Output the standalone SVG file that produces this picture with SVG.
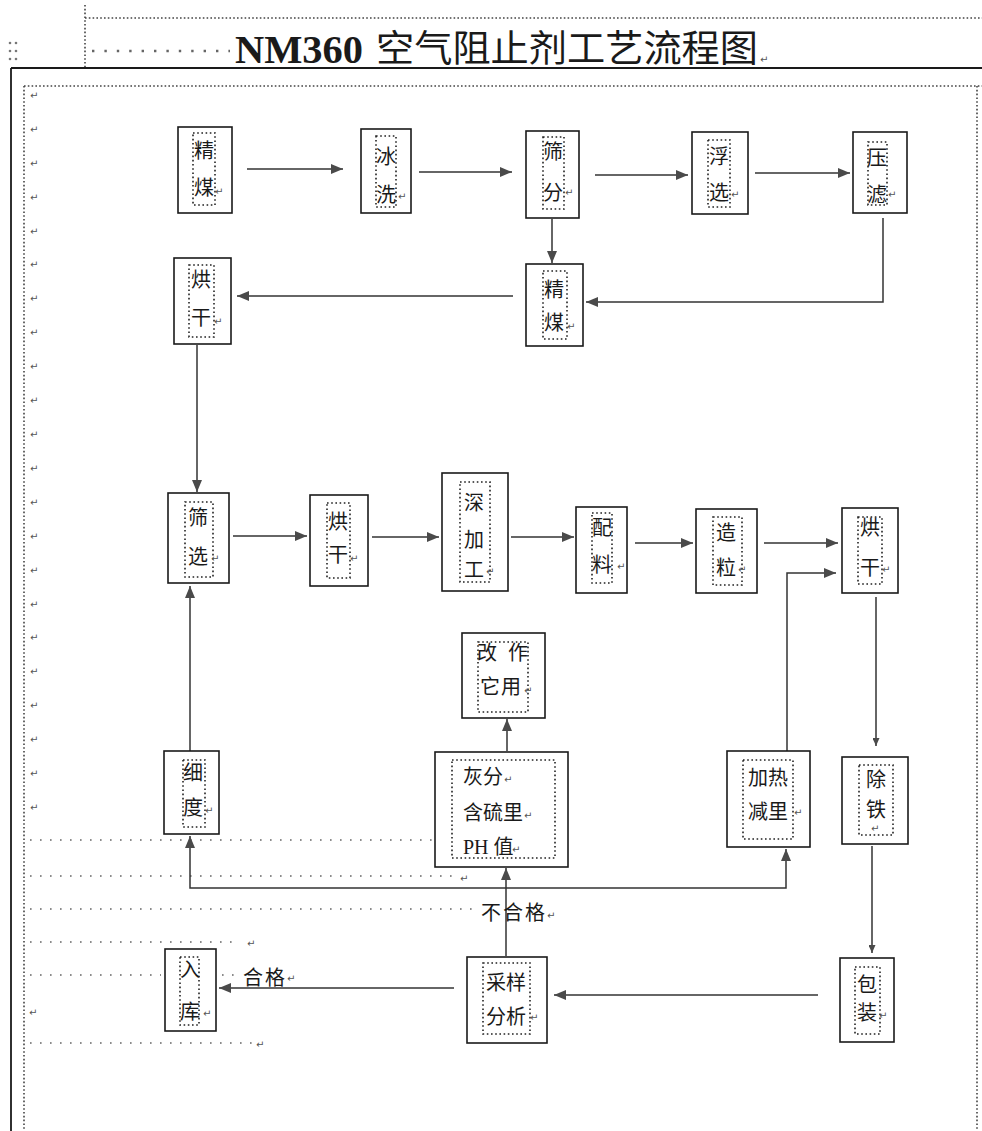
<svg xmlns="http://www.w3.org/2000/svg" width="982" height="1131" viewBox="0 0 982 1131">
<style>
.box{fill:#fff;stroke:#1a1a1a;stroke-width:1.6}
.in{fill:none;stroke:#222;stroke-width:1.6;stroke-dasharray:1.6 2.6}
.t{font-family:"Noto Sans CJK SC","Noto Sans CJK JP",sans-serif;font-size:20px;fill:#1a1a1a;text-anchor:middle}
.tl{font-family:"Liberation Serif","Noto Sans CJK SC",serif;font-size:20px;fill:#1a1a1a}
.pm{font-family:"DejaVu Sans",sans-serif;font-size:10px;fill:#555}
.c{fill:none;stroke:#333;stroke-width:1.5}
.lead{fill:none;stroke:#666;stroke-width:1.6;stroke-dasharray:1.6 8.4}
.mdot{fill:none;stroke:#444;stroke-width:1.6;stroke-dasharray:1.6 2.2}
.lbl{font-family:"Noto Sans CJK SC",sans-serif;font-size:20px;fill:#1a1a1a}
</style>
<defs>
<marker id="ah" markerWidth="12" markerHeight="10" refX="12" refY="5" orient="auto" markerUnits="userSpaceOnUse"><path d="M0,0 L12,5 L0,10 z" fill="#4a4a4a"/></marker>
<marker id="ahs" markerWidth="8" markerHeight="7" refX="8" refY="3.5" orient="auto" markerUnits="userSpaceOnUse"><path d="M0,0 L8,3.5 L0,7 z" fill="#4a4a4a"/></marker>
</defs>
<rect width="982" height="1131" fill="#fff"/>

<g id="page">
<path class="mdot" d="M85,18 H982"/>
<path class="mdot" d="M85,5 V68"/>
<g fill="#777"><circle cx="10" cy="43" r="1.3"/><circle cx="16" cy="43" r="1.3"/><circle cx="10" cy="51" r="1.3"/><circle cx="16" cy="51" r="1.3"/><circle cx="10" cy="59" r="1.3"/><circle cx="16" cy="59" r="1.3"/></g>
<path d="M92,51 H230" fill="none" stroke="#666" stroke-width="2.4" stroke-dasharray="2.4 10"/>
<text x="235" y="63" font-family="Liberation Serif,serif" font-weight="bold" font-size="40" fill="#1a1a1a" textLength="128" lengthAdjust="spacingAndGlyphs">NM360</text>
<text x="376" y="62" font-family="Noto Sans CJK SC,sans-serif" font-size="37" fill="#1a1a1a" textLength="382" lengthAdjust="spacingAndGlyphs">空气阻止剂工艺流程图</text>
<text class="pm" x="760" y="63">↵</text>
<path d="M11,68 H982" stroke="#1a1a1a" stroke-width="1.8"/>
<path d="M11,68 V1131" stroke="#1a1a1a" stroke-width="1.8"/>
<path class="mdot" d="M24,86 H982"/>
<path class="mdot" d="M24,86 V1131"/>
<path class="mdot" d="M977,86 V1131"/>
<g class="pm">
<text x="30" y="99">↵</text><text x="30" y="133">↵</text><text x="30" y="167">↵</text><text x="30" y="201">↵</text><text x="30" y="235">↵</text><text x="30" y="268">↵</text><text x="30" y="302">↵</text><text x="30" y="336">↵</text><text x="30" y="370">↵</text><text x="30" y="404">↵</text><text x="30" y="438">↵</text><text x="30" y="472">↵</text><text x="30" y="506">↵</text><text x="30" y="540">↵</text><text x="30" y="574">↵</text><text x="30" y="608">↵</text><text x="30" y="641">↵</text><text x="30" y="675">↵</text><text x="30" y="709">↵</text><text x="30" y="743">↵</text><text x="30" y="777">↵</text><text x="30" y="811">↵</text>
<text x="29" y="1016">↵</text>
<text x="460" y="882">↵</text>
<text x="247" y="947">↵</text>
<text x="287" y="982">↵</text>
<text x="256" y="1048">↵</text>
</g>
<path class="lead" d="M30,840 H433"/>
<path class="lead" d="M30,876 H452"/>
<path class="lead" d="M30,909 H476"/>
<path class="lead" d="M30,942 H240"/>
<path class="lead" d="M30,975 H161 M222,975 H240"/>
<path class="lead" d="M30,1043 H252"/>
</g>

<g id="connectors">
<path class="c" d="M247,169 H343" marker-end="url(#ah)"/>
<path class="c" d="M419,172 H512" marker-end="url(#ah)"/>
<path class="c" d="M595,175 H688" marker-end="url(#ah)"/>
<path class="c" d="M755,173 H850" marker-end="url(#ah)"/>
<path class="c" d="M552,219 V263" marker-end="url(#ah)"/>
<path class="c" d="M883,218 V302 H586" marker-end="url(#ah)"/>
<path class="c" d="M513,296 H237" marker-end="url(#ah)"/>
<path class="c" d="M197,345 V492" marker-end="url(#ah)"/>
<path class="c" d="M233,536 H307" marker-end="url(#ah)"/>
<path class="c" d="M372,537 H439" marker-end="url(#ah)"/>
<path class="c" d="M511,537 H574" marker-end="url(#ah)"/>
<path class="c" d="M635,543 H693" marker-end="url(#ah)"/>
<path class="c" d="M764,543 H838" marker-end="url(#ah)"/>
<path class="c" d="M787,751 V573 H836" marker-end="url(#ah)"/>
<path class="c" d="M876,597 V746" marker-end="url(#ahs)"/>
<path class="c" d="M872,846 V953" marker-end="url(#ahs)"/>
<path class="c" d="M818,995 H554" marker-end="url(#ah)"/>
<path class="c" d="M454,988 H219" marker-end="url(#ah)"/>
<path class="c" d="M506,956 V868" marker-end="url(#ah)"/>
<path class="c" d="M506,888 H190 V836" marker-end="url(#ah)"/>
<path class="c" d="M506,888 H786 V849" marker-end="url(#ah)"/>
<path class="c" d="M190,751 V586" marker-end="url(#ah)"/>
<path class="c" d="M507,751 V719" marker-end="url(#ah)"/>
<text class="lbl" x="481" y="920" textLength="64">不合格</text>
<text class="pm" x="547" y="919">↵</text>
<text class="lbl" x="243" y="985" textLength="42">合格</text>
</g>

<g id="n1"><rect class="box" x="178" y="127" width="54" height="86"/><rect class="in" x="193" y="133" width="22" height="72"/><text class="t" x="204" y="158">精</text><text class="t" x="204" y="195">煤</text><text class="pm" x="215" y="195">↵</text></g>
<g id="n2"><rect class="box" x="361" y="129" width="50" height="84"/><rect class="in" x="376" y="136" width="20" height="71"/><text class="t" x="386" y="164">冰</text><text class="t" x="386" y="202">洗</text><text class="pm" x="398" y="200">↵</text></g>
<g id="n3"><rect class="box" x="526" y="131" width="53" height="87"/><rect class="in" x="543" y="137" width="21" height="72"/><text class="t" x="553" y="159">筛</text><text class="t" x="553" y="200">分</text><text class="pm" x="565" y="196">↵</text></g>
<g id="n4"><rect class="box" x="692" y="132" width="56" height="82"/><rect class="in" x="708" y="140" width="22" height="67"/><text class="t" x="719" y="164">浮</text><text class="t" x="719" y="200">选</text><text class="pm" x="731" y="198">↵</text></g>
<g id="n5"><rect class="box" x="853" y="132" width="54" height="81"/><rect class="in" x="868" y="142" width="19" height="63"/><text class="t" x="877" y="165">压</text><text class="t" x="877" y="202">滤</text><text class="pm" x="888" y="198">↵</text></g>
<g id="n6"><rect class="box" x="526" y="264" width="57" height="82"/><rect class="in" x="543" y="271" width="24" height="68"/><text class="t" x="554" y="297">精</text><text class="t" x="554" y="330">煤</text><text class="pm" x="567" y="330">↵</text></g>
<g id="n7"><rect class="box" x="174" y="258" width="57" height="86"/><rect class="in" x="189" y="265" width="25" height="72"/><text class="t" x="201" y="287">烘</text><text class="t" x="201" y="325">干</text><text class="pm" x="214" y="325">↵</text></g>
<g id="n8"><rect class="box" x="168" y="493" width="61" height="90"/><rect class="in" x="185" y="502" width="28" height="75"/><text class="t" x="198" y="525">筛</text><text class="t" x="198" y="564">选</text><text class="pm" x="211" y="562">↵</text></g>
<g id="n9"><rect class="box" x="310" y="495" width="58" height="91"/><rect class="in" x="327" y="503" width="23" height="75"/><text class="t" x="338" y="529">烘</text><text class="t" x="338" y="562">干</text><text class="pm" x="350" y="562">↵</text></g>
<g id="n10"><rect class="box" x="442" y="473" width="66" height="118"/><rect class="in" x="460" y="482" width="30" height="100"/><text class="t" x="474" y="510">深</text><text class="t" x="474" y="547">加</text><text class="t" x="474" y="577">工</text><text class="pm" x="486" y="575">↵</text></g>
<g id="n11"><rect class="box" x="576" y="507" width="51" height="86"/><rect class="in" x="592" y="513" width="20" height="70"/><text class="t" x="602" y="535">配</text><text class="t" x="602" y="572">料</text><text class="pm" x="617" y="570">↵</text></g>
<g id="n12"><rect class="box" x="696" y="509" width="61" height="84"/><rect class="in" x="713" y="517" width="29" height="68"/><text class="t" x="726" y="540">造</text><text class="t" x="726" y="575">粒</text><text class="pm" x="738" y="573">↵</text></g>
<g id="n13"><rect class="box" x="842" y="508" width="56" height="85"/><rect class="in" x="858" y="517" width="24" height="67"/><text class="t" x="870" y="535">烘</text><text class="t" x="870" y="575">干</text><text class="pm" x="882" y="573">↵</text></g>
<g id="n14"><rect class="box" x="462" y="633" width="83" height="85"/><rect class="in" x="478" y="642" width="50" height="70"/><text class="t" x="487" y="660">改</text><text class="t" x="518" y="660">作</text><text class="t" x="490" y="694">它</text><text class="t" x="511" y="694">用</text><text class="pm" x="524" y="694">↵</text></g>
<g id="n15"><rect class="box" x="435" y="752" width="133" height="115"/><rect class="in" x="452" y="760" width="103" height="98"/><text class="t" x="483" y="784">灰分</text><text class="pm" x="504" y="783">↵</text><text class="t" x="493" y="820">含硫里</text><text class="pm" x="524" y="819">↵</text><text class="tl" x="463" y="854">PH <tspan font-family="Noto Sans CJK SC,sans-serif">值</tspan></text><text class="pm" x="512" y="853">↵</text></g>
<g id="n16"><rect class="box" x="164" y="751" width="55" height="83"/><rect class="in" x="183" y="760" width="22" height="67"/><text class="t" x="193" y="780">细</text><text class="t" x="193" y="815">度</text><text class="pm" x="205" y="814">↵</text></g>
<g id="n17"><rect class="box" x="727" y="751" width="83" height="96"/><rect class="in" x="743" y="760" width="50" height="79"/><text class="t" x="768" y="785">加热</text><text class="t" x="768" y="819">减里</text><text class="pm" x="794" y="816">↵</text></g>
<g id="n18"><rect class="box" x="842" y="757" width="66" height="87"/><rect class="in" x="859" y="765" width="34" height="70"/><text class="t" x="876" y="787">除</text><text class="t" x="876" y="817">铁</text><text class="pm" x="871" y="832">↵</text></g>
<g id="n19"><rect class="box" x="165" y="949" width="51" height="82"/><rect class="in" x="180" y="957" width="19" height="68"/><text class="t" x="190" y="977">入</text><text class="t" x="190" y="1019">库</text><text class="pm" x="203" y="1017">↵</text></g>
<g id="n20"><rect class="box" x="467" y="957" width="80" height="86"/><rect class="in" x="483" y="963" width="47" height="71"/><text class="t" x="506" y="990">采样</text><text class="t" x="506" y="1024">分析</text><text class="pm" x="530" y="1021">↵</text></g>
<g id="n21"><rect class="box" x="840" y="958" width="54" height="84"/><rect class="in" x="855" y="967" width="25" height="67"/><text class="t" x="867" y="992">包</text><text class="t" x="867" y="1020">装</text><text class="pm" x="879" y="1019">↵</text></g>
</svg>
